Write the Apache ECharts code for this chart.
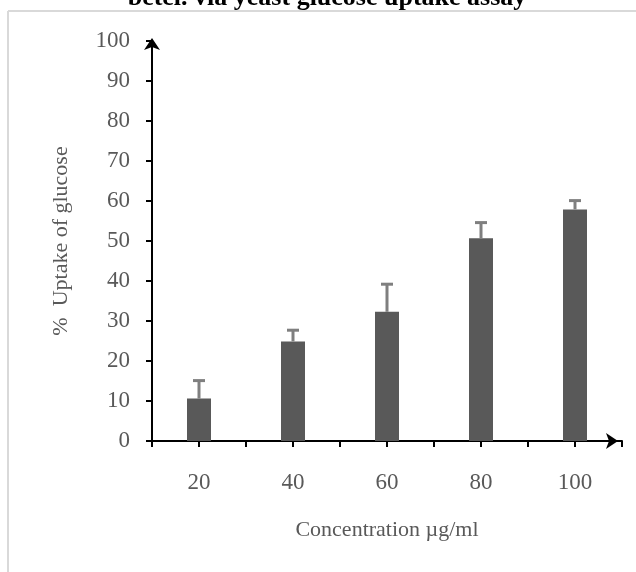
<!DOCTYPE html>
<html>
<head>
<meta charset="utf-8">
<script src="https://cdn.jsdelivr.net/npm/echarts@6/dist/echarts.min.js"></script>
<style>html,body{margin:0;padding:0;background:#fff}#c{width:636px;height:572px}</style>
</head>
<body>
<div id="c"></div>
<script>
const categories = ['20', '40', '60', '80', '100'];
const uptake = [10.6, 24.9, 32.3, 50.7, 57.9];
const uptakeErr = [4.5, 2.8, 6.9, 3.9, 2.2];
const halfTicks = ['', '', '', '', '', '', '', '', '', ''];

const chart = echarts.init(document.getElementById('c'));
const font = 'Liberation Serif, Times New Roman, serif';
const errData = categories.map((c, i) => [i, uptake[i], uptake[i] + uptakeErr[i]]);

chart.setOption({
  animation: false,
  backgroundColor: '#fff',
  graphic: [
    { type: 'line', shape: { x1: 8, y1: 11, x2: 636, y2: 11 }, style: { stroke: '#d9d9d9', lineWidth: 2 } },
    { type: 'line', shape: { x1: 8, y1: 11, x2: 8, y2: 572 }, style: { stroke: '#d9d9d9', lineWidth: 2 } },
    { type: 'text', x: 327, y: -2, style: { text: 'betel. via yeast glucose uptake assay', font: 'bold 26px ' + font, fill: '#000', textAlign: 'center', textVerticalAlign: 'middle' } }
  ],
  grid: { left: 152, right: 14, top: 41, bottom: 131 },
  xAxis: [
    {
      type: 'category', data: categories, boundaryGap: true,
      axisLine: { lineStyle: { color: '#000', width: 2 }, symbol: ['none', 'arrow'], symbolSize: [12, 12], symbolOffset: [0, -4] },
      axisTick: { show: false },
      axisLabel: { color: '#595959', fontFamily: font, fontSize: 23, margin: 30 },
      name: 'Concentration µg/ml', nameLocation: 'middle', nameGap: 78,
      nameTextStyle: { color: '#595959', fontFamily: font, fontSize: 22 }
    },
    {
      type: 'category', data: halfTicks, position: 'bottom', boundaryGap: true,
      axisLine: { show: false },
      axisTick: { show: true, length: 6, lineStyle: { color: '#000', width: 2 } },
      axisLabel: { show: false }
    }
  ],
  yAxis: {
    type: 'value', min: 0, max: 100, interval: 10,
    axisLine: { show: true, lineStyle: { color: '#000', width: 2 }, symbol: ['none', 'arrow'], symbolSize: [12, 12], symbolOffset: [0, 3] },
    axisTick: { show: true, length: 6, lineStyle: { color: '#000', width: 2 } },
    splitLine: { show: false },
    axisLabel: { color: '#595959', fontFamily: font, fontSize: 23, margin: 22 },
    name: '%  Uptake of glucose', nameLocation: 'middle', nameGap: 80,
    nameTextStyle: { color: '#595959', fontFamily: font, fontSize: 22 }
  },
  series: [
    {
      type: 'bar', data: uptake, barWidth: 24, xAxisIndex: 0,
      itemStyle: { color: '#595959' }
    },
    {
      type: 'custom', xAxisIndex: 0, data: errData, z: 3,
      renderItem: function (params, api) {
        const p0 = api.coord([api.value(0), api.value(1)]);
        const p1 = api.coord([api.value(0), api.value(2)]);
        const st = { stroke: '#7f7f7f', lineWidth: 3 };
        return {
          type: 'group',
          children: [
            { type: 'line', shape: { x1: p0[0], y1: p0[1], x2: p1[0], y2: p1[1] }, style: st },
            { type: 'line', shape: { x1: p1[0] - 6, y1: p1[1], x2: p1[0] + 6, y2: p1[1] }, style: st }
          ]
        };
      }
    }
  ]
});
</script>
</body>
</html>
